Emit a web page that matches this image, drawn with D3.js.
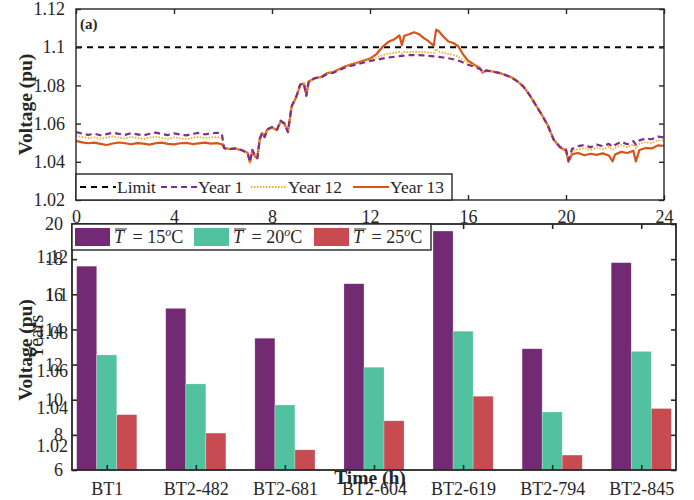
<!DOCTYPE html>
<html>
<head>
<meta charset="utf-8">
<script src="https://cdn.jsdelivr.net/npm/d3@7"></script>
<style>
  body { margin: 0; background: #fff; }
  text { font-family: "Liberation Serif", "Times New Roman", serif; fill: #262626; }
</style>
</head>
<body>
<svg id="fig" width="694" height="500"></svg>
<script>
// ---- data: voltage profiles (top panel) ----
const hours = [
  0, 0.25, 0.5, 0.75, 1, 1.25, 1.5, 1.75, 2, 2.25,
  2.5, 2.75, 3, 3.25, 3.5, 3.75, 4, 4.25, 4.5, 4.75,
  5, 5.25, 5.5, 5.75, 5.95, 6.05, 6.25, 6.5, 6.75, 7.0,
  7.1, 7.2, 7.3, 7.4, 7.5, 7.6, 7.7, 7.8, 8.0, 8.2,
  8.35, 8.5, 8.65, 8.8, 9.0, 9.15, 9.3, 9.4, 9.5, 9.75,
  10, 10.25, 10.5, 10.75, 11, 11.25, 11.5, 11.75, 12, 12.25,
  12.5, 12.75, 13, 13.2, 13.3, 13.4, 13.6, 13.8, 14, 14.2,
  14.4, 14.6, 14.7, 14.8, 15, 15.2, 15.4, 15.6, 15.8, 16,
  16.25, 16.5, 16.6, 16.75, 17, 17.25, 17.5, 17.75, 18, 18.25,
  18.5, 18.75, 19, 19.25, 19.5, 19.75, 20, 20.1, 20.25, 20.5,
  20.75, 21, 21.25, 21.5, 21.75, 21.9, 22, 22.25, 22.5, 22.75,
  22.85, 23, 23.25, 23.5, 23.75, 24
];
const year1 = [
  1.0556, 1.0548, 1.0541, 1.0547, 1.0539, 1.0545, 1.0552, 1.0546, 1.0541, 1.0550,
  1.0544, 1.0538, 1.0547, 1.0553, 1.0545, 1.0540, 1.0549, 1.0543, 1.0538, 1.0546,
  1.0551, 1.0544, 1.0548, 1.0552, 1.0549, 1.0470, 1.0466, 1.0471, 1.0462, 1.0448,
  1.0398, 1.0462, 1.0430, 1.0418, 1.0520, 1.0552, 1.0530, 1.0570, 1.0582, 1.0568,
  1.0615, 1.0602, 1.0555, 1.0690, 1.0745, 1.0805, 1.0812, 1.0745, 1.0822, 1.0838,
  1.0842, 1.0860, 1.0866, 1.0880, 1.0895, 1.0903, 1.0912, 1.0920, 1.0928, 1.0934,
  1.0940, 1.0946, 1.0950, 1.0953, 1.0955, 1.0956, 1.0958, 1.0959, 1.0958, 1.0957,
  1.0955, 1.0952, 1.0950, 1.0949, 1.0946, 1.0942, 1.0937, 1.0930, 1.0920, 1.0908,
  1.0898, 1.0885, 1.0868, 1.0878, 1.0872, 1.0866, 1.0855, 1.0843, 1.0822, 1.0795,
  1.0752, 1.0700, 1.0648, 1.0592, 1.0515, 1.0478, 1.0465, 1.0408, 1.0468, 1.0482,
  1.0488, 1.0476, 1.0490, 1.0482, 1.0494, 1.0478, 1.0488, 1.0505, 1.0492, 1.0508,
  1.0490, 1.0512, 1.0522, 1.0518, 1.0532, 1.0528
];
const year12 = [
  1.0536, 1.0530, 1.0524, 1.0528, 1.0521, 1.0527, 1.0533, 1.0526, 1.0522, 1.0530,
  1.0525, 1.0519, 1.0527, 1.0532, 1.0525, 1.0520, 1.0528, 1.0523, 1.0519, 1.0526,
  1.0531, 1.0524, 1.0527, 1.0530, 1.0524, 1.0472, 1.0468, 1.0470, 1.0460, 1.0446,
  1.0396, 1.0460, 1.0428, 1.0420, 1.0515, 1.0548, 1.0528, 1.0566, 1.0578, 1.0565,
  1.0610, 1.0598, 1.0560, 1.0685, 1.0740, 1.0800, 1.0808, 1.0750, 1.0818, 1.0836,
  1.0842, 1.0862, 1.0868, 1.0884, 1.0898, 1.0907, 1.0917, 1.0926, 1.0936, 1.0945,
  1.0958, 1.0966, 1.0970, 1.0975, 1.0968, 1.0976, 1.0972, 1.0978, 1.0974, 1.0976,
  1.0972, 1.0970, 1.0992, 1.0978, 1.0970, 1.0965, 1.0960, 1.0950, 1.0935, 1.0918,
  1.0903, 1.0888, 1.0865, 1.0880, 1.0874, 1.0868, 1.0857, 1.0845, 1.0824, 1.0797,
  1.0755, 1.0703, 1.0650, 1.0595, 1.0518, 1.0480, 1.0462, 1.0403, 1.0458, 1.0466,
  1.0472, 1.0462, 1.0474, 1.0466, 1.0478, 1.0462, 1.0472, 1.0488, 1.0476, 1.0492,
  1.0470, 1.0496, 1.0503, 1.0498, 1.0512, 1.0510
];
const year13 = [
  1.0510, 1.0502, 1.0497, 1.0500, 1.0494, 1.0488, 1.0496, 1.0501, 1.0497, 1.0492,
  1.0498, 1.0495, 1.0490, 1.0497, 1.0500, 1.0494, 1.0491, 1.0497, 1.0499, 1.0493,
  1.0496, 1.0500, 1.0495, 1.0498, 1.0492, 1.0473, 1.0467, 1.0469, 1.0461, 1.0447,
  1.0397, 1.0461, 1.0429, 1.0419, 1.0518, 1.0550, 1.0529, 1.0568, 1.0580, 1.0566,
  1.0612, 1.0600, 1.0558, 1.0688, 1.0742, 1.0802, 1.0810, 1.0748, 1.0820, 1.0838,
  1.0844, 1.0864, 1.0870, 1.0886, 1.0900, 1.0910, 1.0920, 1.0930, 1.0940, 1.0962,
  1.1000, 1.1028, 1.1042, 1.1062, 1.1010, 1.1060, 1.1068, 1.1078, 1.1068, 1.1048,
  1.1030, 1.1008, 1.1092, 1.1085, 1.1055, 1.1030, 1.1022, 1.1005, 1.0962, 1.0930,
  1.0908, 1.0890, 1.0867, 1.0879, 1.0873, 1.0867, 1.0856, 1.0844, 1.0823, 1.0796,
  1.0753, 1.0701, 1.0649, 1.0593, 1.0516, 1.0476, 1.0458, 1.0400, 1.0440, 1.0446,
  1.0434, 1.0442, 1.0436, 1.0444, 1.0433, 1.0402, 1.0438, 1.0452, 1.0446, 1.0458,
  1.0402, 1.0462, 1.0472, 1.0470, 1.0486, 1.0484
];
const voltLimit = 1.1;
const voltTicks = [1.02, 1.04, 1.06, 1.08, 1.1, 1.12];
const timeTicks = [0, 4, 8, 12, 16, 20, 24];

// ---- data: lifetime bars (bottom panel) ----
const transformers = ["BT1", "BT2-482", "BT2-681", "BT2-604", "BT2-619", "BT2-794", "BT2-845"];
const years15C = [17.6, 15.2, 13.5, 16.6, 19.6, 12.9, 17.8];
const years20C = [12.55, 10.9, 9.7, 11.85, 13.9, 9.3, 12.75];
const years25C = [9.15, 8.1, 7.15, 8.8, 10.2, 6.85, 9.5];
const tempLabels = ["15", "20", "25"];
const yearTicks = [6, 8, 10, 12, 14, 16, 18, 20];

const axisColor = "#262626";
const svg = d3.select("#fig");
svg.append("rect").attr("width", 694).attr("height", 500).attr("fill", "#fff");

// ================= top panel =================
const topBox = { x0: 76, x1: 664, y0: 9, y1: 200 };
const xT = d3.scaleLinear().domain([0, 24]).range([topBox.x0, topBox.x1]);
const yT = d3.scaleLinear().domain([1.02, 1.12]).range([topBox.y1, topBox.y0]);

svg.append("clipPath").attr("id", "clipTop")
  .append("rect").attr("x", topBox.x0).attr("y", topBox.y0)
  .attr("width", topBox.x1 - topBox.x0).attr("height", topBox.y1 - topBox.y0);

const plotTop = svg.append("g").attr("clip-path", "url(#clipTop)");

plotTop.append("line")
  .attr("x1", xT(0)).attr("x2", xT(24))
  .attr("y1", yT(voltLimit)).attr("y2", yT(voltLimit))
  .attr("stroke", "#000").attr("stroke-width", 2).attr("stroke-dasharray", "6,5");

const series = [
  { name: "Year 13", values: year13, color: "#D95319", width: 2.2, dash: null },
  { name: "Year 12", values: year12, color: "#EDB120", width: 1.8, dash: "1.5,1.5" },
  { name: "Year 1", values: year1, color: "#7E2F8E", width: 2.2, dash: "6,4" }
];
const line = d3.line().x(d => xT(d[0])).y(d => yT(d[1]));
series.forEach(s => {
  plotTop.append("path")
    .datum(d3.zip(hours, s.values))
    .attr("d", line)
    .attr("fill", "none")
    .attr("stroke", s.color)
    .attr("stroke-width", s.width)
    .attr("stroke-linejoin", "round")
    .attr("stroke-dasharray", s.dash);
});

// frame and inward ticks
svg.append("rect").attr("x", topBox.x0).attr("y", topBox.y0)
  .attr("width", topBox.x1 - topBox.x0).attr("height", topBox.y1 - topBox.y0)
  .attr("fill", "none").attr("stroke", axisColor).attr("stroke-width", 1.4);

const axT = svg.append("g");
axT.append("g").attr("transform", `translate(0,${topBox.y1})`)
  .call(d3.axisBottom(xT).tickValues(timeTicks).tickSize(-5).tickPadding(10).tickFormat(d3.format("d")))
  .call(g => g.select(".domain").remove());
axT.append("g").attr("transform", `translate(0,${topBox.y0})`)
  .call(d3.axisTop(xT).tickValues(timeTicks).tickSize(-5).tickFormat(""))
  .call(g => g.select(".domain").remove());
axT.append("g").attr("transform", `translate(${topBox.x0},0)`)
  .call(d3.axisLeft(yT).tickValues(voltTicks).tickSize(-5).tickPadding(11).tickFormat(d => String(+d.toFixed(2))))
  .call(g => g.select(".domain").remove());
axT.append("g").attr("transform", `translate(${topBox.x1},0)`)
  .call(d3.axisRight(yT).tickValues(voltTicks).tickSize(-5).tickFormat(""))
  .call(g => g.select(".domain").remove());

axT.selectAll(".tick line").attr("stroke", axisColor).attr("stroke-width", 1.4);
axT.selectAll(".tick text").attr("font-size", 18).attr("font-family", "Liberation Serif").attr("fill", axisColor);

svg.append("text").attr("x", 80).attr("y", 29)
  .attr("font-size", 15).attr("font-weight", "bold").text("(a)");

svg.append("text")
  .attr("transform", `translate(32,${(topBox.y0 + topBox.y1) / 2}) rotate(-90)`)
  .attr("text-anchor", "middle").attr("font-size", 19.5).attr("font-weight", "bold")
  .text("Voltage (pu)");

// top legend
const legTop = svg.append("g");
legTop.append("rect").attr("x", topBox.x0).attr("y", 174).attr("width", 376).attr("height", 26)
  .attr("fill", "#fff").attr("stroke", axisColor).attr("stroke-width", 1.4);
const legItems = [
  { name: "Limit", color: "#000", width: 2, dash: "6,5", x: 80 },
  { name: "Year 1", color: "#7E2F8E", width: 2.2, dash: "6,4", x: 161 },
  { name: "Year 12", color: "#EDB120", width: 1.8, dash: "1.5,1.5", x: 251 },
  { name: "Year 13", color: "#D95319", width: 2.2, dash: null, x: 353 }
];
legItems.forEach(d => {
  legTop.append("line").attr("x1", d.x).attr("x2", d.x + 36).attr("y1", 187).attr("y2", 187)
    .attr("stroke", d.color).attr("stroke-width", d.width).attr("stroke-dasharray", d.dash);
  legTop.append("text").attr("x", d.x + 37).attr("y", 193).attr("font-size", 17.5).text(d.name);
});

// ================= hidden second voltage panel (only labels remain visible) =================
const yGhost = d3.scaleLinear().domain([1.02, 1.12]).range([446, 257]);
svg.append("g").attr("transform", "translate(73,0)")
  .call(d3.axisLeft(yGhost).tickValues(voltTicks).tickSize(0).tickPadding(5).tickFormat(d => String(+d.toFixed(2))))
  .call(g => g.select(".domain").remove())
  .selectAll("text").attr("font-size", 18).attr("font-family", "Liberation Serif").attr("fill", axisColor);
svg.append("text")
  .attr("transform", "translate(32,350) rotate(-90)")
  .attr("text-anchor", "middle").attr("font-size", 19.5).attr("font-weight", "bold")
  .text("Voltage (pu)");

// ================= bottom panel: bars =================
const botBox = { x0: 72, x1: 676, y0: 224, y1: 470 };
const xB = d3.scaleLinear().domain([0.61, 7.39]).range([botBox.x0, botBox.x1]);
const yB = d3.scaleLinear().domain([6, 20]).range([botBox.y1, botBox.y0]);
const barColors = ["#722B73", "#52C19F", "#C94B52"];
const barW = 0.225;

svg.append("rect").attr("x", botBox.x0).attr("y", botBox.y0)
  .attr("width", botBox.x1 - botBox.x0).attr("height", botBox.y1 - botBox.y0).attr("fill", "#fff");

[years15C, years20C, years25C].forEach((vals, k) => {
  svg.append("g").selectAll("rect")
    .data(vals)
    .join("rect")
    .attr("x", (d, i) => xB(i + 1 + (k - 1) * barW - barW / 2))
    .attr("width", xB(barW) - xB(0))
    .attr("y", d => yB(d))
    .attr("height", d => yB(6) - yB(d))
    .attr("fill", barColors[k])
    .attr("stroke", "#fff").attr("stroke-opacity", 0.4).attr("stroke-width", 0.6);
});

const catIdx = transformers.map((d, i) => i + 1);
const axB = svg.append("g");
axB.append("g").attr("transform", `translate(0,${botBox.y1})`)
  .call(d3.axisBottom(xB).tickValues(catIdx).tickSize(-5).tickPadding(12).tickFormat(i => transformers[i - 1]))
  .call(g => g.select(".domain").remove());
axB.append("g").attr("transform", `translate(0,${botBox.y0})`)
  .call(d3.axisTop(xB).tickValues(catIdx).tickSize(-5).tickFormat(""))
  .call(g => g.select(".domain").remove());
axB.append("g").attr("transform", `translate(${botBox.x0},0)`)
  .call(d3.axisLeft(yB).tickValues(yearTicks).tickSize(-5).tickPadding(9))
  .call(g => g.select(".domain").remove());
axB.append("g").attr("transform", `translate(${botBox.x1},0)`)
  .call(d3.axisRight(yB).tickValues(yearTicks).tickSize(-5).tickFormat(""))
  .call(g => g.select(".domain").remove());
axB.selectAll(".tick line").attr("stroke", axisColor).attr("stroke-width", 1.6);
axB.selectAll(".tick text").attr("font-size", 18).attr("font-family", "Liberation Serif").attr("fill", axisColor);

svg.append("rect").attr("x", botBox.x0).attr("y", botBox.y0)
  .attr("width", botBox.x1 - botBox.x0).attr("height", botBox.y1 - botBox.y0)
  .attr("fill", "none").attr("stroke", axisColor).attr("stroke-width", 1.8);

svg.append("text")
  .attr("transform", "translate(43,337) rotate(-90)")
  .attr("text-anchor", "middle").attr("font-size", 20)
  .text("Years");

// bar legend
const legBot = svg.append("g");
legBot.append("rect").attr("x", botBox.x0).attr("y", botBox.y0).attr("width", 359).attr("height", 26)
  .attr("fill", "#fff").attr("stroke", axisColor).attr("stroke-width", 1.4);
const legX = [75, 194, 314];
tempLabels.forEach((t, k) => {
  const x = legX[k];
  legBot.append("rect").attr("x", x).attr("y", 228).attr("width", 35).attr("height", 18)
    .attr("fill", barColors[k]);
  const tT = legBot.append("text").attr("x", x + 39).attr("y", 243)
    .attr("font-size", 18).attr("font-style", "italic").text("T");
  const bb = tT.node().getBBox();
  legBot.append("line").attr("x1", bb.x + 1).attr("x2", bb.x + bb.width + 1)
    .attr("y1", 229).attr("y2", 229).attr("stroke", axisColor).attr("stroke-width", 1);
  const rest = legBot.append("text").attr("x", bb.x + bb.width + 2).attr("y", 243).attr("font-size", 18);
  rest.append("tspan").text("\u00a0=\u00a015");
  rest.select("tspan").text("\u00a0=\u00a0" + t);
  rest.append("tspan").attr("font-size", 12).attr("font-style", "italic").attr("dy", -7).text("o");
  rest.append("tspan").attr("dy", 7).text("C");
});

// leftover x label of the covered voltage panel
svg.append("text").attr("x", (topBox.x0 + topBox.x1) / 2).attr("y", 484)
  .attr("text-anchor", "middle").attr("font-size", 19.5).attr("font-weight", "bold")
  .text("Time (h)");
</script>
</body>
</html>
